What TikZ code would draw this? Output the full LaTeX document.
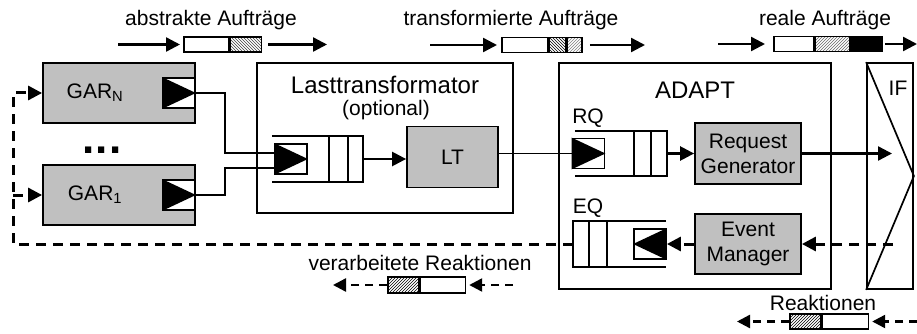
\documentclass[tikz,border=0pt]{standalone}
\usepackage{fontspec}
\setmainfont{Liberation Sans}
\setsansfont{Liberation Sans}
\usepackage{tikz}
\usetikzlibrary{positioning, arrows.meta, patterns, calc}
\definecolor{boxgray}{HTML}{C0C0C0}

\begin{document}
\begin{tikzpicture}[x=1pt, y=-1pt, font=\sffamily\fontsize{21}{25}\selectfont,
  gar/.style={rectangle, draw, line width=1.8pt, fill=boxgray, minimum width=152pt, minimum height=60pt, inner sep=0pt},
  unit/.style={rectangle, draw, line width=1.8pt, fill=boxgray, minimum width=106pt, minimum height=61pt, align=center, inner sep=0pt},
  frame/.style={rectangle, draw, line width=1.8pt, inner sep=0pt},
  port/.style={rectangle, draw, line width=1.8pt, fill=white, minimum width=32pt, minimum height=30pt, inner sep=0pt},
  queue/.style={rectangle, minimum height=45pt, inner sep=0pt},
  msg/.style={rectangle, draw, line width=1.6pt, minimum height=15pt, inner sep=0pt, anchor=west},
  title/.style={font=\sffamily\fontsize{24}{28}\selectfont},
  wire/.style={line width=1.7pt},
  qline/.style={line width=1.9pt},
  flow/.style={-{Triangle[length=14pt, width=14pt]}, line width=2.4pt},
  fb/.style={-{Triangle[length=14pt, width=14pt]}, line width=3pt, dash pattern=on 10pt off 7pt},
  msgfb/.style={-{Triangle[length=13pt, width=13pt]}, line width=2.4pt, dash pattern=on 8pt off 6pt}
]
  \useasboundingbox (0,0) rectangle (917,334);

  \node (absL) at (211,20) {abstrakte Aufträge};
  \node[msg, fill=white, minimum width=45pt] (absW) at (183,44.5) {};
  \node[msg, pattern=north west lines, pattern color=black!75, minimum width=31pt] (absH) at (absW.east) {};
  \coordinate (absIn) at (118,44.5);
  \coordinate (absOut) at (327,44.5);
  \draw[flow, shorten >=3pt] (absIn) -- (absW.west);
  \draw[flow, shorten <=6pt] (absH.east) -- (absOut);

  \node (trL) at (511,20) {transformierte Aufträge};
  \node[msg, fill=white, minimum width=46pt] (trW) at (501,45) {};
  \node[msg, pattern=north west lines, minimum width=16pt] (trX) at (trW.east) {};
  \node[msg, pattern=north east lines, pattern color=black!50, minimum width=15pt] (trH) at (trX.east) {};
  \coordinate (trIn) at (430,45);
  \coordinate (trOut) at (645,45);
  \draw[flow, shorten >=4pt] (trIn) -- (trW.west);
  \draw[flow, shorten <=7pt] (trH.east) -- (trOut);

  \node (reL) at (825,20) {reale Aufträge};
  \node[msg, fill=white, minimum width=40pt] (reW) at (773,44) {};
  \node[msg, pattern=north east lines, pattern color=black!60, minimum width=34pt] (reH) at (reW.east) {};
  \node[msg, fill=black, minimum width=31pt] (reB) at (reH.east) {};
  \coordinate (reIn) at (718,44);
  \coordinate (reOut) at (917,44);
  \draw[flow, shorten >=8pt] (reIn) -- (reW.west);
  \draw[flow, shorten <=2pt] (reB.east) -- (reOut);

  \node[gar, label={[xshift=-24pt]center:GAR\textsubscript{N}}] (garN) at (119,93) {};
  \node[port, anchor=east] (garNp) at (garN.east) {};
  \fill (garNp.north west) -- (garNp.south west) -- (garNp.east) -- cycle;
  \node[font=\fontsize{44}{44}\selectfont\bfseries] (dots) at (102,150) {.\hspace{1pt}.\hspace{1pt}.};
  \node[gar, label={[xshift=-24pt]center:GAR\textsubscript{1}}] (gar1) at (119,195) {};
  \node[port, anchor=east] (gar1p) at (gar1.east) {};
  \fill (gar1p.north west) -- (gar1p.south west) -- (gar1p.east) -- cycle;

  \node[frame, minimum width=256pt, minimum height=150pt] (ltBox) at (385,138) {};
  \node[title] (ltTitle) at (385,85) {Lasttransformator};
  \node (ltOpt) at (386,110) {(optional)};
  \node[queue, minimum width=91pt] (ltq) at (317.5,159) {};
  \draw[qline] (ltq.north west) -- (ltq.north east) -- (ltq.south east) -- (ltq.south west);
  \foreach \d in {15,34}
    \draw[qline] ([xshift=-\d pt]ltq.north east) -- ([xshift=-\d pt]ltq.south east);
  \node[port] (ltp) at (291,159) {};
  \fill (ltp.north west) -- (ltp.south west) -- (ltp.east) -- cycle;
  \node[unit, minimum width=91pt] (lt) at (452.5,157) {LT};
  \draw[flow] (ltq.east) -- (ltq.east -| lt.west);

  \draw[wire] (garNp.east) -- ++(29,0) |- ([yshift=6pt]ltp.west);
  \draw[wire] (gar1p.east) -- ++(29,0) |- ([yshift=-9pt]ltp.west);

  \node[frame, minimum width=272pt, minimum height=226pt] (adapt) at (695,176) {};
  \node[title] (adaptTitle) at (695,90) {ADAPT};
  \node (rqL) at (588,118) {RQ};
  \node[queue, minimum width=92pt] (rqq) at (621,153.5) {};
  \draw[qline] (rqq.north west) -- (rqq.north east) -- (rqq.south east) -- (rqq.south west);
  \foreach \d in {16,33}
    \draw[qline] ([xshift=-\d pt]rqq.north east) -- ([xshift=-\d pt]rqq.south east);
  \node[port] (rqp) at (588.5,153.5) {};
  \fill (rqp.north west) -- (rqp.south west) -- (rqp.east) -- cycle;
  \node[unit] (rg) at (748,153.5) {Request\\Generator};
  \draw[wire] (lt.east |- rqp.west) -- (rqp.west);
  \draw[flow] (rqq.east) -- (rg.west);

  \node (eqL) at (588,208) {EQ};
  \node[queue, minimum width=93pt] (eqq) at (619.5,244) {};
  \draw[qline] (eqq.north east) -- (eqq.north west) -- (eqq.south west) -- (eqq.south east);
  \foreach \d in {16,34}
    \draw[qline] ([xshift=\d pt]eqq.north west) -- ([xshift=\d pt]eqq.south west);
  \node[port] (eqp) at (650,244) {};
  \fill (eqp.north east) -- (eqp.south east) -- (eqp.west) -- cycle;
  \node[unit, minimum height=60pt] (em) at (748,244) {Event\\Manager};

  \node[frame, minimum width=46pt, minimum height=226pt] (ifBox) at (890,176) {};
  \draw[wire] (ifBox.north west) -- (ifBox.east) -- (ifBox.south west);
  \node (ifL) at (898,88) {IF};
  \coordinate (ifIn) at (892,153.5);
  \coordinate (ifOut) at (893,244);
  \draw[flow] (rg.east) -- (ifIn);
  \draw[fb] (ifOut) -- (em.east);
  \draw[fb] (em.west) -- (eqp.east);
  \draw[fb] (eqq.west) -| ([xshift=-29pt]garN.west) -- (garN.west);
  \draw[fb] ([xshift=-29pt]gar1.west) -- (gar1.west);

  \node (vrL) at (420,263) {verarbeitete Reaktionen};
  \node[msg, pattern=north east lines, minimum width=31pt, minimum height=16pt] (vrH) at (387,285) {};
  \node[msg, fill=white, minimum width=45pt, minimum height=16pt] (vrW) at (vrH.east) {};
  \coordinate (vrIn) at (513,285);
  \coordinate (vrOut) at (333,285);
  \draw[msgfb, shorten >=3pt] (vrIn) -- (vrW.east);
  \draw[msgfb] (vrH.west) -- (vrOut);

  \node (rkL) at (823,303) {Reaktionen};
  \node[msg, pattern=north east lines, minimum width=31pt] (rkH) at (789,321.5) {};
  \node[msg, fill=white, minimum width=46pt] (rkW) at (rkH.east) {};
  \coordinate (rkIn) at (917,321.5);
  \coordinate (rkOut) at (737,321.5);
  \draw[msgfb, shorten >=3pt] (rkIn) -- (rkW.east);
  \draw[msgfb] (rkH.west) -- (rkOut);
\end{tikzpicture}
\end{document}
